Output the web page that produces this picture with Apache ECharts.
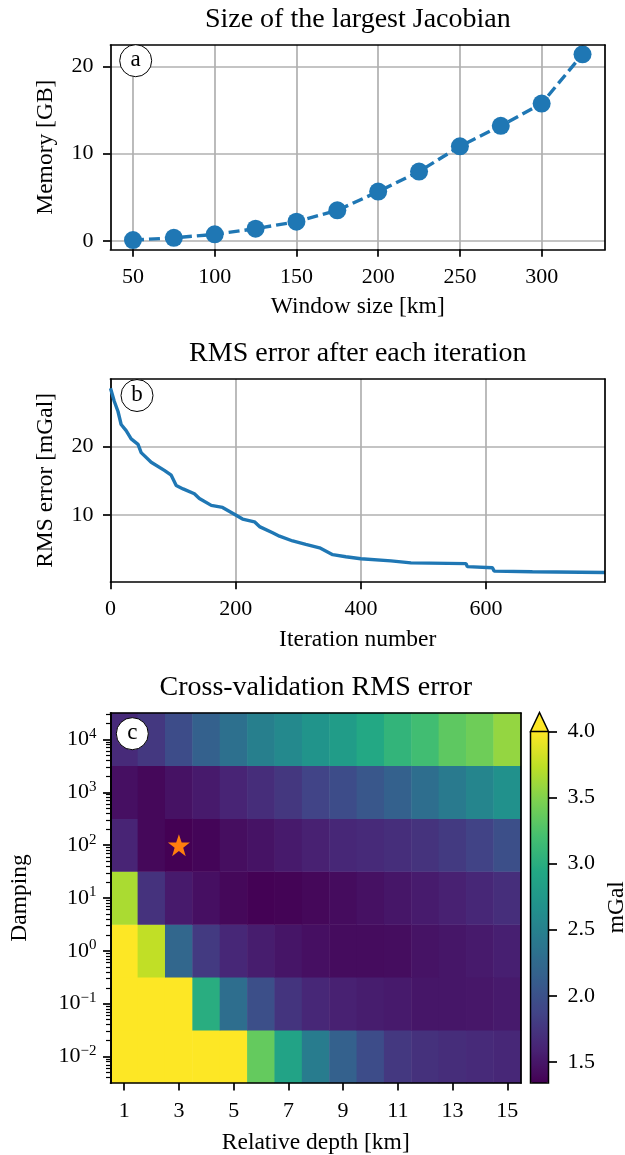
<!DOCTYPE html>
<html>
<head>
<meta charset="utf-8">
<script src="https://cdn.jsdelivr.net/npm/echarts@6/dist/echarts.min.js"></script>
<style>
  html, body { margin: 0; padding: 0; background: #fff; }
  #chart { width: 625px; height: 1155px; }
</style>
</head>
<body>
<div id="chart"></div>
<script>
// (a) size of the largest Jacobian
const windowSize = [50, 75, 100, 125, 150, 175, 200, 225, 250, 275, 300, 325];
const memoryGB = [0.1, 0.35, 0.75, 1.4, 2.2, 3.5, 5.65, 7.95, 10.85, 13.2, 15.75, 21.4];
const windowTicks = [50, 100, 150, 200, 250, 300];
const memoryTicks = [0, 10, 20];

// (b) RMS error after each iteration
const iterNum = [0, 6, 12, 17, 25, 33, 44, 49, 65, 86, 97, 105, 116, 134, 142, 161, 179, 200, 211, 230,
  238, 259, 270, 291, 312, 334, 355, 376, 400, 448, 480, 568, 570, 610, 613, 674, 790];
const rmsErr = [28.5, 26.6, 25.1, 23.2, 22.3, 21.1, 20.3, 19.1, 17.7, 16.5, 15.8, 14.3, 13.8, 13.1, 12.4,
  11.4, 11.1, 10.0, 9.4, 9.0, 8.3, 7.4, 6.9, 6.2, 5.7, 5.2, 4.2, 3.9, 3.6, 3.3, 3.0, 2.9, 2.45, 2.3, 1.8, 1.7, 1.6];
const iterTicks = [0, 200, 400, 600];
const rmsTicks = [10, 20];

// (c) cross-validation RMS error, one array per damping (log10)
const depthKm = [1, 2, 3, 4, 5, 6, 7, 8, 9, 10, 11, 12, 13, 14, 15];
const dampingExp = [-2, -1, 0, 1, 2, 3, 4];
const cvDampM2 = [12, 9, 6.5, 5, 4.2, 3.36, 2.88, 2.45, 2.16, 1.95, 1.77, 1.71, 1.68, 1.66, 1.63];
const cvDampM1 = [8, 5.5, 4.3, 2.99, 2.3, 1.98, 1.74, 1.63, 1.58, 1.55, 1.53, 1.5, 1.5, 1.51, 1.53];
const cvDamp0 = [4.6, 3.75, 2.22, 1.79, 1.63, 1.55, 1.49, 1.45, 1.42, 1.42, 1.43, 1.48, 1.5, 1.53, 1.57];
const cvDamp1 = [3.66, 1.72, 1.53, 1.45, 1.39, 1.35, 1.36, 1.39, 1.42, 1.46, 1.5, 1.54, 1.58, 1.63, 1.69];
const cvDamp2 = [1.61, 1.39, 1.34, 1.37, 1.44, 1.48, 1.53, 1.58, 1.63, 1.66, 1.69, 1.73, 1.79, 1.86, 1.98];
const cvDamp3 = [1.45, 1.39, 1.47, 1.53, 1.61, 1.68, 1.76, 1.87, 1.95, 2.06, 2.16, 2.3, 2.43, 2.54, 2.67];
const cvDamp4 = [1.66, 1.77, 1.95, 2.16, 2.32, 2.48, 2.59, 2.7, 2.8, 2.94, 3.07, 3.18, 3.33, 3.41, 3.57];
const cvRows = [cvDampM2, cvDampM1, cvDamp0, cvDamp1, cvDamp2, cvDamp3, cvDamp4];
const bestDepth = 3;
const bestDampingExp = 2;
const cbMin = 1.34;
const cbMax = 4.0;
const cbTicks = [1.5, 2.0, 2.5, 3.0, 3.5, 4.0];

const FONT = 'Liberation Serif';
const BLUE = '#1f77b4';
const LW = 1.7;
const viridis = ['#440154', '#482475', '#414487', '#355f8d', '#2a788e', '#21918c',
  '#22a884', '#44bf70', '#7ad151', '#bddf26', '#fde725'];

const pad = (lo, hi) => [lo - 0.05 * (hi - lo), hi + 0.05 * (hi - lo)];
const xRangeA = pad(Math.min(...windowSize), Math.max(...windowSize));
const yRangeA = pad(Math.min(...memoryGB), Math.max(...memoryGB));
const yRangeB = pad(Math.min(...rmsErr), Math.max(...rmsErr));

const heatData = [];
cvRows.forEach((row, j) => row.forEach((v, i) => heatData.push([i, j, v])));

// log minor ticks for the damping axis
const minorTicks = [];
for (let k = -3; k <= 4; k++) {
  for (let m = 2; m <= 9; m++) {
    const p = k + Math.log10(m);
    if (p > -2.5 && p < 4.5) minorTicks.push(p);
  }
}

const lbl = { fontFamily: FONT, fontSize: 22, color: '#000' };
const nameLbl = { fontFamily: FONT, fontSize: 23.5, color: '#000' };
const tickStyle = { show: true, length: 7.5, lineStyle: { color: '#000', width: LW } };
const lineStyle = { show: true, onZero: false, lineStyle: { color: '#000', width: LW } };
const splitStyle = { show: true, lineStyle: { color: '#b0b0b0', width: LW } };

function spine(gridIndex, position) {
  return {
    gridIndex, position, type: 'value', min: 0, max: 1, z: 5,
    axisLine: lineStyle, axisTick: { show: false }, axisLabel: { show: false }, splitLine: { show: false }
  };
}

function title(text, x, y) {
  return {
    type: 'text', x, y, z: 100,
    style: { text, fontFamily: FONT, fontSize: 28, fill: '#000',
      align: 'center', textAlign: 'center', verticalAlign: 'middle', textVerticalAlign: 'middle' }
  };
}

function badge(letter, cx, cy) {
  return {
    type: 'group', z: 100,
    children: [
      { type: 'circle', shape: { cx, cy, r: 16 }, style: { fill: '#fff', stroke: '#000', lineWidth: 1 }, z: 100 },
      { type: 'text', x: cx, y: cy - 1, z: 101,
        style: { text: letter, fontFamily: FONT, fontSize: 23, fill: '#000',
          align: 'center', textAlign: 'center', verticalAlign: 'middle', textVerticalAlign: 'middle' } }
    ]
  };
}

const chart = echarts.init(document.getElementById('chart'), null, { renderer: 'canvas' });

const option = {
  animation: false,
  backgroundColor: '#fff',
  grid: [
    { left: 110.5, right: 20, top: 45, height: 204.3, outerBoundsMode: 'none' },
    { left: 110.5, right: 20, top: 379, height: 202.7, outerBoundsMode: 'none' },
    { left: 110.5, right: 104, top: 713, height: 370, outerBoundsMode: 'none' },
    { left: 530.5, width: 18, top: 731.5, height: 351.5, outerBoundsMode: 'none' }
  ],
  xAxis: [
    {
      gridIndex: 0, type: 'value', position: 'bottom', min: xRangeA[0], max: xRangeA[1], splitNumber: 5,
      axisLine: lineStyle, axisTick: { ...tickStyle, customValues: windowTicks },
      axisLabel: { ...lbl, margin: 17, customValues: windowTicks },
      splitLine: splitStyle,
      name: 'Window size [km]', nameLocation: 'middle', nameGap: 46, nameTextStyle: nameLbl
    },
    spine(0, 'top'),
    {
      gridIndex: 1, type: 'value', position: 'bottom', min: 0, max: Math.max(...iterNum), interval: 200,
      axisLine: lineStyle, axisTick: { ...tickStyle, customValues: iterTicks },
      axisLabel: { ...lbl, margin: 17, customValues: iterTicks },
      splitLine: splitStyle,
      name: 'Iteration number', nameLocation: 'middle', nameGap: 46, nameTextStyle: nameLbl
    },
    spine(1, 'top'),
    {
      gridIndex: 2, type: 'category', position: 'bottom', data: depthKm.map(String), boundaryGap: true, z: 5,
      axisLine: lineStyle, axisTick: { ...tickStyle, alignWithLabel: true, interval: 1 },
      axisLabel: { ...lbl, margin: 17, interval: 1 },
      splitLine: { show: false },
      name: 'Relative depth [km]', nameLocation: 'middle', nameGap: 48, nameTextStyle: nameLbl
    },
    spine(2, 'top'),
    { gridIndex: 3, type: 'value', min: 0, max: 1, show: false }
  ],
  yAxis: [
    {
      gridIndex: 0, type: 'value', position: 'left', min: yRangeA[0], max: yRangeA[1], splitNumber: 2,
      axisLine: lineStyle, axisTick: { ...tickStyle, customValues: memoryTicks },
      axisLabel: { ...lbl, margin: 17, customValues: memoryTicks },
      splitLine: splitStyle,
      name: 'Memory [GB]', nameLocation: 'middle', nameGap: 53, nameTextStyle: nameLbl
    },
    spine(0, 'right'),
    {
      gridIndex: 1, type: 'value', position: 'left', min: yRangeB[0], max: yRangeB[1], splitNumber: 2,
      axisLine: lineStyle, axisTick: { ...tickStyle, customValues: rmsTicks },
      axisLabel: { ...lbl, margin: 17, customValues: rmsTicks },
      splitLine: splitStyle,
      name: 'RMS error [mGal]', nameLocation: 'middle', nameGap: 53, nameTextStyle: nameLbl
    },
    spine(1, 'right'),
    {
      gridIndex: 2, type: 'category', position: 'left', data: dampingExp.map(String), boundaryGap: true, z: 5,
      axisLine: lineStyle, axisTick: { ...tickStyle, alignWithLabel: true },
      axisLabel: {
        ...lbl, margin: 14,
        formatter: v => '{b|10}{s|' + v.replace('-', '\u2212') + '}',
        rich: {
          b: { fontFamily: FONT, fontSize: 22, lineHeight: 26, color: '#000' },
          s: { fontFamily: FONT, fontSize: 15, lineHeight: 15, verticalAlign: 'top', color: '#000' }
        }
      },
      splitLine: { show: false },
      name: 'Damping', nameLocation: 'middle', nameGap: 79, nameTextStyle: nameLbl
    },
    spine(2, 'right'),
    {
      gridIndex: 2, type: 'value', position: 'left', offset: 0, min: -2.5, max: 4.5, z: 6,
      axisLine: { show: true, onZero: false, lineStyle: { color: '#000', width: LW } },
      axisTick: { show: true, length: 4.5, customValues: minorTicks, lineStyle: { color: '#000', width: 1.2 } },
      axisLabel: { show: true, customValues: minorTicks, formatter: () => '' },
      splitLine: { show: false }
    },
    {
      gridIndex: 3, type: 'value', position: 'right', min: cbMin, max: cbMax, z: 5,
      axisLine: { show: false, onZero: false },
      axisTick: { show: true, length: 8.5, customValues: cbTicks, lineStyle: { color: '#000', width: LW } },
      axisLabel: { ...lbl, margin: 19, customValues: cbTicks, formatter: v => v.toFixed(1) },
      splitLine: { show: false },
      name: 'mGal', nameLocation: 'middle', nameGap: 56, nameTextStyle: nameLbl
    }
  ],
  visualMap: {
    type: 'continuous', seriesIndex: 2, dimension: 2,
    min: cbMin, max: cbMax, calculable: false, hoverLink: false,
    orient: 'vertical', left: 530.5, top: 731.5, padding: 0,
    itemWidth: 18, itemHeight: 351.5, text: null,
    inRange: { color: viridis }, outOfRange: { color: '#fde725' }
  },
  series: [
    {
      type: 'line', xAxisIndex: 0, yAxisIndex: 0,
      data: windowSize.map((x, i) => [x, memoryGB[i]]),
      symbol: 'circle', symbolSize: 18,
      itemStyle: { color: BLUE, opacity: 1 },
      lineStyle: { color: BLUE, width: 3.4, type: [11, 5] },
      z: 3
    },
    {
      type: 'line', xAxisIndex: 2, yAxisIndex: 2,
      data: iterNum.map((x, i) => [x, rmsErr[i]]),
      showSymbol: false, symbol: 'none',
      lineStyle: { color: BLUE, width: 3.4 },
      z: 3
    },
    {
      type: 'heatmap', xAxisIndex: 4, yAxisIndex: 4,
      data: heatData, progressive: 0,
      itemStyle: { borderWidth: 0 },
      emphasis: { disabled: true }
    },
    {
      type: 'scatter', xAxisIndex: 4, yAxisIndex: 4,
      data: [[depthKm.indexOf(bestDepth), dampingExp.indexOf(bestDampingExp)]],
      symbol: 'path://M50,0 L61.8,34.5 L97.6,34.5 L68.6,55.9 L79.4,90.5 L50,69.1 L20.6,90.5 L31.4,55.9 L2.4,34.5 L38.2,34.5 Z',
      symbolSize: 22,
      itemStyle: { color: '#ff7f0e', opacity: 1 },
      emphasis: { disabled: true },
      z: 6
    }
  ],
  graphic: [
    title('Size of the largest Jacobian', 357.8, 20),
    title('RMS error after each iteration', 357.8, 354),
    title('Cross-validation RMS error', 315.8, 688),
    badge('a', 135.7, 60.7),
    badge('b', 137, 395.5),
    badge('c', 132.3, 733.7),
    {
      type: 'polygon', z: 100,
      shape: { points: [[530.5, 731.5], [539.5, 712.5], [548.5, 731.5]] },
      style: { fill: '#fde725', stroke: '#000', lineWidth: 1.5 }
    },
    {
      type: 'polyline', z: 100,
      shape: { points: [[530.5, 731.5], [530.5, 1083], [548.5, 1083], [548.5, 731.5]] },
      style: { fill: null, stroke: '#000', lineWidth: 1.5 }
    }
  ]
};

chart.setOption(option);
</script>
</body>
</html>
